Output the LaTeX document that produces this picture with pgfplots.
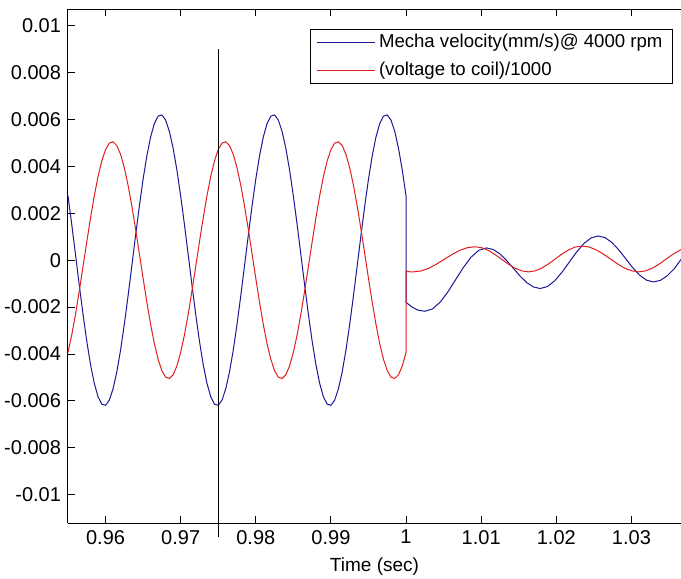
\documentclass[border=0pt]{standalone}
\usepackage{fontspec}
\setmainfont{Liberation Sans}
\usepackage{pgfplots}
\pgfplotsset{compat=1.18}

\definecolor{vblue}{RGB}{25,25,150}
\definecolor{vred}{RGB}{225,30,30}

\begin{document}
\begin{tikzpicture}[font=\fontsize{10}{12}\selectfont]
\begin{axis}[
    scale only axis,
    width=306.5pt,
    height=257pt,
    xmin=0.955, xmax=1.0366,
    ymin=-0.0112, ymax=0.0107,
    scaled ticks=false,
    axis x line*=box,
    axis y line*=left,
    xtick pos=both,
    xticklabel pos=bottom,
    ytick pos=left,
    axis line style={line width=0.5pt},
    tick align=inside,
    major tick length=3.5pt,
    tick style={black, line width=0.5pt},
    ticklabel style={font=\fontsize{10}{12}\selectfont},
    xtick={0.96,0.97,0.98,0.99,1.0,1.01,1.02,1.03},
    xticklabels={0.96,0.97,0.98,0.99,1,1.01,1.02,1.03},
    ytick={-0.01,-0.008,-0.006,-0.004,-0.002,0,0.002,0.004,0.006,0.008,0.01},
    yticklabels={-0.01,-0.008,-0.006,-0.004,-0.002,0,0.002,0.004,0.006,0.008,0.01},
    xlabel={Time (sec)},
    xlabel style={font=\fontsize{9.5}{11}\selectfont},
    clip=false,
    legend style={
        at={(1,1)}, anchor=north east, xshift=-4pt, yshift=-10pt,
        draw=black, line width=0.5pt, fill=white,
        font=\fontsize{9.3}{11.5}\selectfont,
        cells={anchor=west}, row sep=1.5pt,
        inner xsep=3pt, inner ysep=0.5pt
    },
    legend image code/.code={\draw[#1] (0pt,0pt) -- (29pt,0pt);},
]
\addplot[vblue, line width=0.5pt] coordinates {
(0.9550,0.002734)(0.9555,0.001517)(0.9560,0.000234)(0.9565,-0.001060)(0.9570,-0.002306)(0.9575,-0.003453)(0.9580,-0.004449)(0.9585,-0.005250)(0.9590,-0.005821)(0.9595,-0.006137)
(0.9600,-0.006186)(0.9605,-0.005964)(0.9610,-0.005482)(0.9615,-0.004761)(0.9620,-0.003832)(0.9625,-0.002734)(0.9630,-0.001517)(0.9635,-0.000234)(0.9640,0.001060)(0.9645,0.002306)
(0.9650,0.003453)(0.9655,0.004449)(0.9660,0.005250)(0.9665,0.005821)(0.9670,0.006137)(0.9675,0.006186)(0.9680,0.005964)(0.9685,0.005482)(0.9690,0.004761)(0.9695,0.003832)
(0.9700,0.002734)(0.9705,0.001517)(0.9710,0.000234)(0.9715,-0.001060)(0.9720,-0.002306)(0.9725,-0.003453)(0.9730,-0.004449)(0.9735,-0.005250)(0.9740,-0.005821)(0.9745,-0.006137)
(0.9750,-0.006186)(0.9755,-0.005964)(0.9760,-0.005482)(0.9765,-0.004761)(0.9770,-0.003832)(0.9775,-0.002734)(0.9780,-0.001517)(0.9785,-0.000234)(0.9790,0.001060)(0.9795,0.002306)
(0.9800,0.003453)(0.9805,0.004449)(0.9810,0.005250)(0.9815,0.005821)(0.9820,0.006137)(0.9825,0.006186)(0.9830,0.005964)(0.9835,0.005482)(0.9840,0.004761)(0.9845,0.003832)
(0.9850,0.002734)(0.9855,0.001517)(0.9860,0.000234)(0.9865,-0.001060)(0.9870,-0.002306)(0.9875,-0.003453)(0.9880,-0.004449)(0.9885,-0.005250)(0.9890,-0.005821)(0.9895,-0.006137)
(0.9900,-0.006186)(0.9905,-0.005964)(0.9910,-0.005482)(0.9915,-0.004761)(0.9920,-0.003832)(0.9925,-0.002734)(0.9930,-0.001517)(0.9935,-0.000234)(0.9940,0.001060)(0.9945,0.002306)
(0.9950,0.003453)(0.9955,0.004449)(0.9960,0.005250)(0.9965,0.005821)(0.9970,0.006137)(0.9975,0.006186)(0.9980,0.005964)(0.9985,0.005482)(0.9990,0.004761)(0.9995,0.003832)
(1.0000,0.002734)
(1.0000,-0.00180)(1.0008,-0.00200)(1.0016,-0.00213)(1.0025,-0.00218)
(1.00353,-0.002077)(1.00455,-0.001785)(1.00558,-0.001347)(1.00660,-0.00083)(1.00763,-0.000313)(1.00865,0.000125)(1.00968,0.000417)(1.01070,0.00052)
(1.01159,0.000454)(1.01249,0.000267)(1.01338,-0.000014)(1.01428,-0.000345)(1.01517,-0.000676)(1.01606,-0.000957)(1.01696,-0.001144)(1.01785,-0.00121)
(1.01882,-0.001125)(1.01979,-0.000882)(1.02075,-0.000519)(1.02172,-0.00009)(1.02269,0.000339)(1.02366,0.000702)(1.02462,0.000945)(1.02559,0.00103)
(1.02651,0.000955)(1.02743,0.000743)(1.02835,0.000425)(1.02927,0.00005)(1.03018,-0.000325)(1.03110,-0.000643)(1.03202,-0.000855)(1.03294,-0.00093)
(1.03387,-0.00086)(1.03479,-0.00066)(1.03572,-0.000362)(1.03660,0.00003)
};
\addlegendentry{Mecha velocity(mm/s)@ 4000 rpm}
\addplot[vred, line width=0.5pt] coordinates {
(0.9550,-0.003931)(0.9555,-0.003187)(0.9560,-0.002302)(0.9565,-0.001317)(0.9570,-0.000275)(0.9575,0.000779)(0.9580,0.001800)(0.9585,0.002742)(0.9590,0.003563)(0.9595,0.004229)
(0.9600,0.004711)(0.9605,0.004986)(0.9610,0.005043)(0.9615,0.004881)(0.9620,0.004505)(0.9625,0.003931)(0.9630,0.003187)(0.9635,0.002302)(0.9640,0.001317)(0.9645,0.000275)
(0.9650,-0.000779)(0.9655,-0.001800)(0.9660,-0.002742)(0.9665,-0.003563)(0.9670,-0.004229)(0.9675,-0.004711)(0.9680,-0.004986)(0.9685,-0.005043)(0.9690,-0.004881)(0.9695,-0.004505)
(0.9700,-0.003931)(0.9705,-0.003187)(0.9710,-0.002302)(0.9715,-0.001317)(0.9720,-0.000275)(0.9725,0.000779)(0.9730,0.001800)(0.9735,0.002742)(0.9740,0.003563)(0.9745,0.004229)
(0.9750,0.004711)(0.9755,0.004986)(0.9760,0.005043)(0.9765,0.004881)(0.9770,0.004505)(0.9775,0.003931)(0.9780,0.003187)(0.9785,0.002302)(0.9790,0.001317)(0.9795,0.000275)
(0.9800,-0.000779)(0.9805,-0.001800)(0.9810,-0.002742)(0.9815,-0.003563)(0.9820,-0.004229)(0.9825,-0.004711)(0.9830,-0.004986)(0.9835,-0.005043)(0.9840,-0.004881)(0.9845,-0.004505)
(0.9850,-0.003931)(0.9855,-0.003187)(0.9860,-0.002302)(0.9865,-0.001317)(0.9870,-0.000275)(0.9875,0.000779)(0.9880,0.001800)(0.9885,0.002742)(0.9890,0.003563)(0.9895,0.004229)
(0.9900,0.004711)(0.9905,0.004986)(0.9910,0.005043)(0.9915,0.004881)(0.9920,0.004505)(0.9925,0.003931)(0.9930,0.003187)(0.9935,0.002302)(0.9940,0.001317)(0.9945,0.000275)
(0.9950,-0.000779)(0.9955,-0.001800)(0.9960,-0.002742)(0.9965,-0.003563)(0.9970,-0.004229)(0.9975,-0.004711)(0.9980,-0.004986)(0.9985,-0.005043)(0.9990,-0.004881)(0.9995,-0.004505)
(1.0000,-0.003931)
(1.0000,-0.00046)(1.0005,-0.00050)(1.0010,-0.00050)
(1.00202,-0.000459)(1.00304,-0.000343)(1.00406,-0.00017)(1.00509,0.000035)(1.00611,0.00024)(1.00713,0.000413)(1.00815,0.000529)(1.00917,0.00057)
(1.01006,0.000529)(1.01095,0.000413)(1.01184,0.00024)(1.01273,0.000035)(1.01362,-0.00017)(1.01451,-0.000343)(1.01540,-0.000459)(1.01629,-0.0005)
(1.01718,-0.000458)(1.01807,-0.000339)(1.01896,-0.00016)(1.01986,0.00005)(1.02075,0.00026)(1.02164,0.000439)(1.02253,0.000558)(1.02342,0.0006)
(1.02437,0.000558)(1.02531,0.000439)(1.02626,0.00026)(1.02720,0.00005)(1.02815,-0.00016)(1.02909,-0.000339)(1.03004,-0.000458)(1.03098,-0.0005)
(1.03190,-0.000458)(1.03281,-0.000339)(1.03373,-0.00016)(1.03464,0.00005)(1.03556,0.00026)(1.03660,0.00045)
};
\addlegendentry{(voltage to coil)/1000}
% marker line at t = 0.975
\addplot[black, line width=0.5pt, forget plot] coordinates {(0.975,0.009) (0.975,-0.0118)};
\coordinate (O) at (rel axis cs:0,0);
\end{axis}
\pgfresetboundingbox
\path (O) ++(-34pt,-28pt) rectangle ++(340.5pt,289.5pt);
\end{tikzpicture}
\end{document}
